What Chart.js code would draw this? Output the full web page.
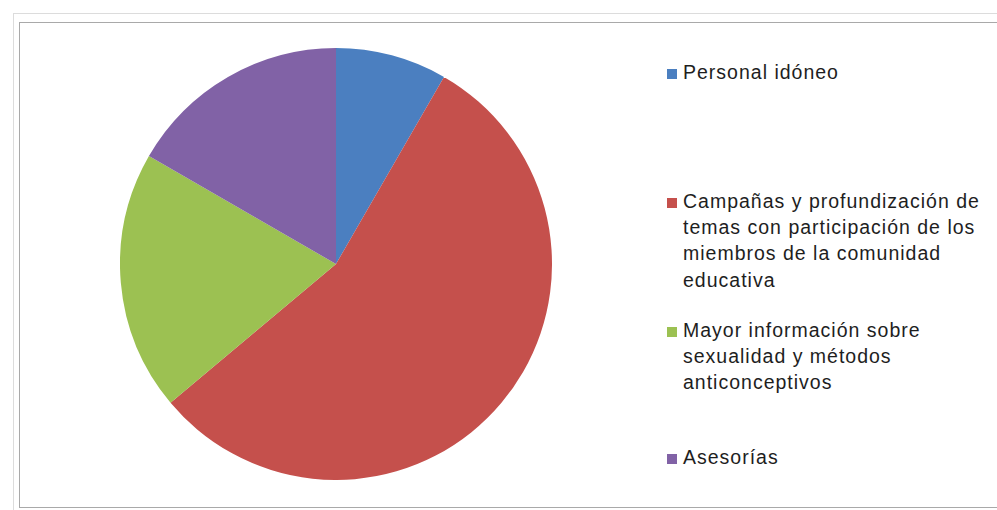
<!DOCTYPE html>
<html>
<head>
<meta charset="utf-8">
<script src="https://cdn.jsdelivr.net/npm/chart.js@4"></script>
<style>
  html, body { margin: 0; padding: 0; background: #ffffff; }
  #wrap { position: relative; width: 997px; height: 510px; overflow: hidden; background: #fff; }
  #outer { position: absolute; left: 13px; top: 13px; width: 1000px; height: 520px; border: 1px solid #dcdcdc; }
  #frame { position: absolute; left: 19px; top: 22px; width: 1000px; height: 484px; border: 1px solid #a9a9a9; }
  #pieBox { position: absolute; left: 120px; top: 48px; width: 432px; height: 432px; }
  #legend { position: absolute; left: 0; top: 0; font-family: "Liberation Sans", "DejaVu Sans", sans-serif; font-size: 19.5px; letter-spacing: 1px; color: #1e1e1e; }
  .item { position: absolute; left: 666px; line-height: 26.2px; }
  .sw { position: absolute; left: 1px; top: 10px; width: 10px; height: 10px; }
  .txt { position: absolute; left: 17px; top: 0; white-space: nowrap; }
</style>
</head>
<body>
<div id="wrap">
  <div id="outer"></div>
  <div id="frame"></div>
  <div id="pieBox"><canvas id="c"></canvas></div>
  <div id="legend"></div>
</div>
<script>
const categories = [
  ["Personal idóneo"],
  ["Campañas y profundización de", "temas con participación de los", "miembros de la comunidad", "educativa"],
  ["Mayor información sobre", "sexualidad y métodos", "anticonceptivos"],
  ["Asesorías"]
];
const values = [3, 20, 7, 6];
const colors = ["#4b7fc0", "#c5504c", "#9cc152", "#8162a6"];

const legendTops = [59, 188, 317, 444];

const chart = new Chart(document.getElementById('c'), {
  type: 'pie',
  data: {
    labels: categories.map(l => l.join(' ')),
    datasets: [{
      data: values,
      backgroundColor: colors,
      borderWidth: 0
    }]
  },
  options: {
    responsive: true,
    maintainAspectRatio: false,
    animation: false,
    layout: { padding: 0 },
    plugins: {
      legend: { display: false },
      tooltip: { enabled: false }
    }
  }
});

const legend = document.getElementById('legend');
categories.forEach((lines, i) => {
  const item = document.createElement('div');
  item.className = 'item';
  item.style.top = legendTops[i] + 'px';
  const sw = document.createElement('div');
  sw.className = 'sw';
  sw.style.background = chart.data.datasets[0].backgroundColor[i];
  const txt = document.createElement('div');
  txt.className = 'txt';
  txt.innerHTML = lines.map(s => s.replace(/&/g, '&amp;').replace(/</g, '&lt;')).join('<br>');
  item.appendChild(sw);
  item.appendChild(txt);
  legend.appendChild(item);
});
</script>
</body>
</html>
